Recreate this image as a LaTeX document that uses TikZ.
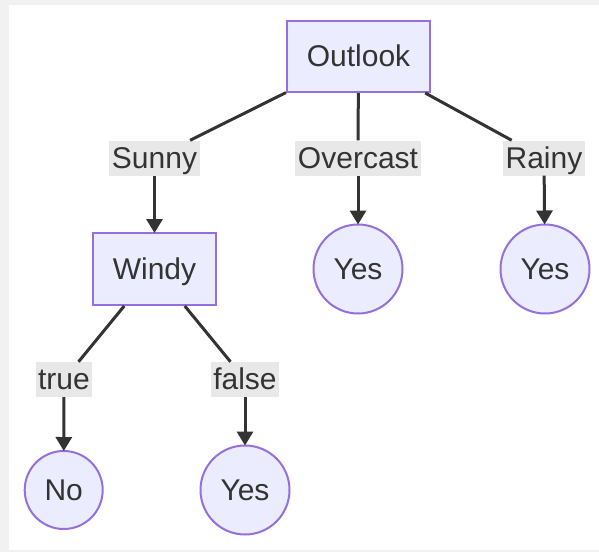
\documentclass[tikz,border=0pt]{standalone}
\usepackage{fontspec}
\setmainfont{Liberation Sans}
\usetikzlibrary{arrows.meta,shapes.geometric}
\definecolor{nodefill}{HTML}{ECECFF}
\definecolor{nodeline}{HTML}{9370DB}
\definecolor{ink}{HTML}{333333}
\definecolor{lblbg}{HTML}{E8E8E8}
\definecolor{frame}{HTML}{F1F1F1}
\tikzset{
  txt/.style={font=\fontsize{30}{36}\selectfont, text=ink, text height=27pt, text depth=6.4pt},
  boxnode/.style={txt, draw=nodeline, fill=nodefill, line width=2pt, rectangle, inner sep=0pt},
  leaf/.style={txt, draw=nodeline, fill=nodefill, line width=2pt, circle, inner sep=0pt},
  lbl/.style={txt, fill=lblbg, inner xsep=2.5pt, inner ysep=0.8pt},
  edge/.style={draw=ink, line width=3pt},
  arr/.style={edge, -{Triangle[length=14pt,width=16pt]}, shorten >=-1pt}
}
\begin{document}
\begin{tikzpicture}[x=1pt,y=-1pt]
\useasboundingbox (0,0) rectangle (599,552);
\fill[frame] (0,0) rectangle (599,552);
\fill[white] (9,5) rectangle (599,550);

\node[boxnode, minimum width=143pt, minimum height=71pt] (outlook) at (358.5,56.5) {Outlook};
\node[boxnode, minimum width=123pt, minimum height=72pt] (windy) at (154.5,269) {Windy};
\node[leaf, minimum size=89pt] (yes1) at (358,269) {Yes};
\node[leaf, minimum size=89pt] (yes2) at (545,269) {Yes};
\node[leaf, minimum size=78pt] (no) at (63.7,490) {No};
\node[leaf, minimum size=89pt] (yes3) at (245,490) {Yes};

\node[lbl] (sunny) at (154.5,158) {Sunny};
\node[lbl] (overcast) at (358,158) {Overcast};
\node[lbl] (rainy) at (544,158) {Rainy};
\node[lbl] (true) at (64,379.5) {true};
\node[lbl] (false) at (245,379.5) {false};

\draw[edge] (outlook) -- (sunny);
\draw[edge] (outlook) -- (overcast);
\draw[edge] (outlook) -- (rainy);
\draw[edge] (windy) -- (true);
\draw[edge] (windy) -- (false);

\draw[arr] (sunny) -- (windy);
\draw[arr] (overcast) -- (yes1);
\draw[arr] (rainy) -- (yes2);
\draw[arr] (true) -- (no);
\draw[arr] (false) -- (yes3);
\end{tikzpicture}
\end{document}
